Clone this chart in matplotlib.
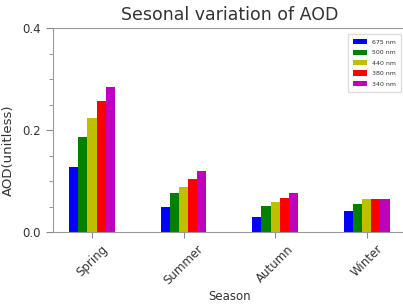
import numpy as np
import matplotlib
matplotlib.use('Agg')
import matplotlib.pyplot as plt
from matplotlib.ticker import MultipleLocator

seasons = ['Spring', 'Summer', 'Autumn', 'Winter']
wavelengths = ['675 nm', '500 nm', '440 nm', '380 nm', '340 nm']
aod_675 = [0.127, 0.049, 0.030, 0.041]
aod_500 = [0.186, 0.076, 0.051, 0.054]
aod_440 = [0.224, 0.088, 0.059, 0.064]
aod_380 = [0.257, 0.104, 0.066, 0.065]
aod_340 = [0.284, 0.120, 0.077, 0.065]
colors = ['b', 'g', 'y', 'r', 'm']

series = [aod_675, aod_500, aod_440, aod_380, aod_340]
txt = '#333333'
plt.rcParams['text.color'] = txt
plt.rcParams['axes.labelcolor'] = txt
plt.rcParams['xtick.color'] = '#888888'
plt.rcParams['ytick.color'] = '#888888'
plt.rcParams['xtick.labelcolor'] = txt
plt.rcParams['ytick.labelcolor'] = txt

fig = plt.figure(figsize=(4.03, 3.04), dpi=100)
ax = fig.add_axes([0.1315, 0.2368, 0.875, 0.671])

x = np.arange(len(seasons))
w = 0.1
for i, (vals, c, lab) in enumerate(zip(series, colors, wavelengths)):
    ax.bar(x + (i - 2) * w, vals, w, color=c, label=lab)

ax.set_ylim(0, 0.4)
ax.yaxis.set_major_locator(MultipleLocator(0.2))
ax.yaxis.set_minor_locator(MultipleLocator(0.05))
ax.tick_params(axis='y', which='major', length=5, labelsize=8.5, pad=4)
ax.tick_params(axis='y', which='minor', length=3)
ax.set_xticks(x)
ax.set_xticklabels(seasons, rotation=45, fontsize=8.5)
ax.tick_params(axis='x', length=4)
for s in ax.spines.values():
    s.set_color('#999999')

ax.set_title('Sesonal variation of AOD', fontsize=12.5)
ax.set_ylabel('AOD(unitless)', fontsize=9.5)
ax.yaxis.set_label_coords(-0.108, 0.40)
ax.set_xlabel('Season', fontsize=8.5, labelpad=2)

ax.legend(loc='upper right', bbox_to_anchor=(1.003, 1 - 31 / 304), bbox_transform=fig.transFigure,
          fontsize=4.5, handlelength=2.2, handleheight=0.9, framealpha=1, edgecolor='#dddddd',
          fancybox=False, borderpad=0.8, labelspacing=0.75)

fig.savefig('out.png', dpi=100)
